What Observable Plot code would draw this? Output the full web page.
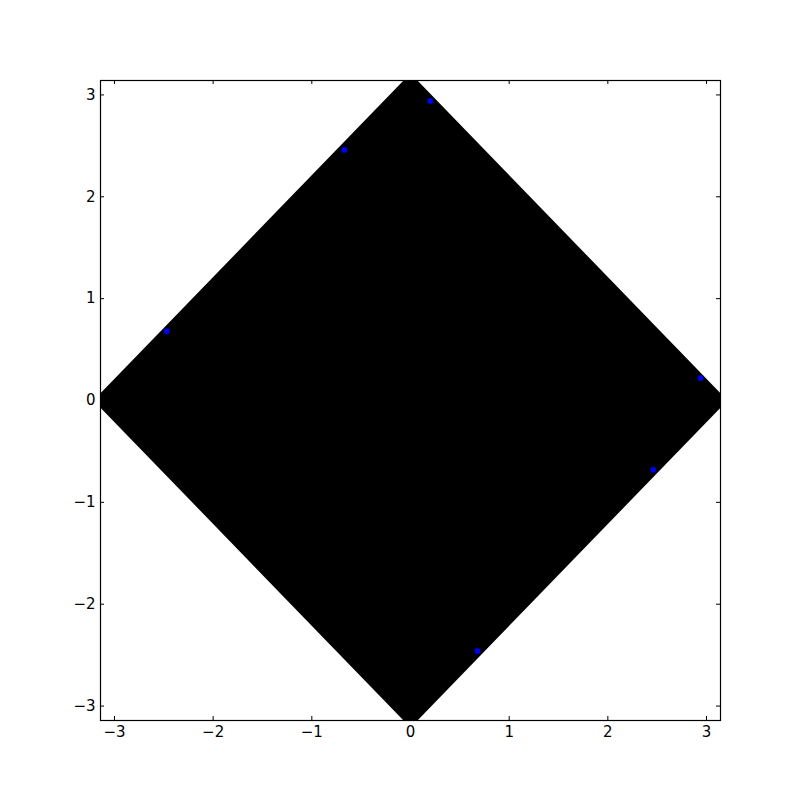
<!DOCTYPE html>
<html>
<head>
<meta charset="utf-8">
<script src="https://cdn.jsdelivr.net/npm/d3@7"></script>
<script src="https://cdn.jsdelivr.net/npm/@observablehq/plot@0.6"></script>
<style>
  html, body { margin: 0; padding: 0; background: #fff; }
  svg { display: block; }
</style>
</head>
<body>
<div id="chart"></div>
<script>
const PI = Math.PI;
// Diamond |x| + |y| = π (dense scatter region)
const diamondX = [-PI, 0, PI, 0, -PI];
const diamondY = [0, PI, 0, -PI, 0];
// Visible blue points near the edge
const dotX = [0.20, -0.67, -2.47, 2.94, 2.46, 0.68];
const dotY = [2.94, 2.46, 0.68, 0.22, -0.68, -2.46];
// Ticks
const tickValues = [-3, -2, -1, 0, 1, 2, 3];
const tickLabels = ["\u22123", "\u22122", "\u22121", "0", "1", "2", "3"];

const diamond = diamondX.map((x, i) => ({x, y: diamondY[i]}));
const dots = dotX.map((x, i) => ({x, y: dotY[i]}));
const fmt = d => tickLabels[tickValues.indexOf(d)];

const plot = Plot.plot({
  width: 800,
  height: 800,
  marginLeft: 100,
  marginRight: 80,
  marginTop: 80,
  marginBottom: 80,
  style: {fontFamily: "DejaVu Sans", fontSize: "15px", color: "black", background: "white"},
  x: {domain: [-PI, PI]},
  y: {domain: [-PI, PI]},
  marks: [
    Plot.line(diamond, {x: "x", y: "y", fill: "black", stroke: "black", strokeWidth: 10, strokeLinejoin: "round", clip: true}),
    Plot.dot(dots, {x: "x", y: "y", r: 3.2, fill: "#0000ff", stroke: "#000", strokeWidth: 0.6}),
    Plot.tickX(tickValues, {x: d => d, stroke: "black", insetTop: 636}),
    Plot.tickX(tickValues, {x: d => d, stroke: "black", insetBottom: 636}),
    Plot.tickY(tickValues, {y: d => d, stroke: "black", insetRight: 616}),
    Plot.tickY(tickValues, {y: d => d, stroke: "black", insetLeft: 616}),
    Plot.axisX(tickValues, {anchor: "bottom", tickSize: 0, tickPadding: 6, tickFormat: fmt, fontSize: 15, label: null}),
    Plot.axisY(tickValues, {anchor: "left", tickSize: 0, tickPadding: 5, tickFormat: fmt, fontSize: 15, label: null}),
    Plot.frame({stroke: "black", strokeWidth: 1.2})
  ]
});
document.getElementById("chart").appendChild(plot);
</script>
</body>
</html>
